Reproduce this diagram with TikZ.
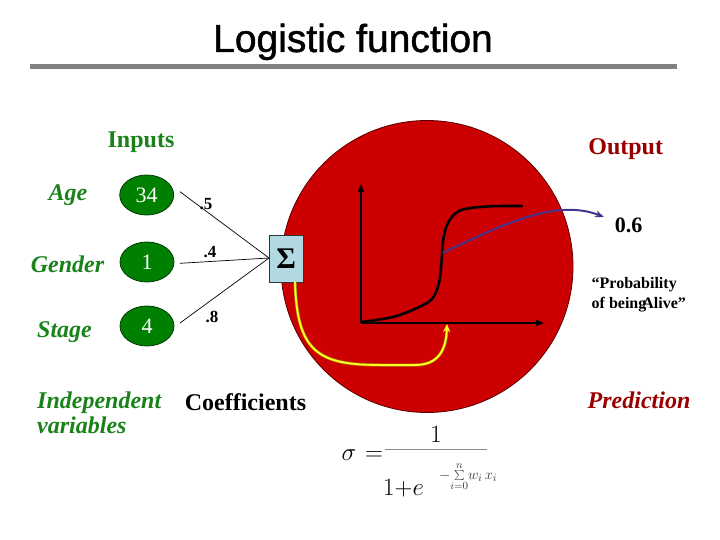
\documentclass[tikz,border=0pt]{standalone}
\usepackage{fontspec}
\setmainfont{Liberation Serif}
\newfontfamily\titlefont[FakeBold=1.2]{Liberation Sans}
\usetikzlibrary{shapes.geometric,arrows.meta,calc}
\definecolor{bigred}{RGB}{204,0,0}
\definecolor{redline}{RGB}{90,0,0}
\definecolor{maroon}{RGB}{153,0,0}
\definecolor{ellgreen}{RGB}{0,128,0}
\definecolor{ellline}{RGB}{0,60,0}
\definecolor{txtgreen}{RGB}{25,130,25}
\definecolor{sigfill}{RGB}{178,216,226}
\definecolor{arrowblue}{RGB}{72,52,140}
\definecolor{ylw}{RGB}{255,255,40}
\definecolor{ylwedge}{RGB}{170,140,0}
\definecolor{bargray}{RGB}{128,128,128}
\definecolor{fracgray}{RGB}{140,140,140}
\newcommand\setfs[1]{\fontsize{#1}{#1}\selectfont}
\tikzset{
  lbl/.style={anchor=base, inner sep=0pt},
  greenlbl/.style={lbl, text=txtgreen, font=\setfs{24}\bfseries\itshape},
  inval/.style={ellipse, draw=ellline, line width=0.8pt, fill=ellgreen, minimum width=54pt, minimum height=40pt, inner sep=0pt, text=white, font=\setfs{22}},
  weight/.style={lbl, font=\setfs{17}\bfseries},
  wire/.style={draw=black, line width=0.7pt},
  axis/.style={line width=1.6pt, -{Triangle[length=8pt,width=6pt]}},
}
\begin{document}
\begin{tikzpicture}[x=1pt,y=-1pt]
\useasboundingbox (0,0) rectangle (720,540);
% title
\node[lbl, font=\titlefont\setfs{39}] (title) at (353,52) {Logistic function};
\fill[bargray] (30,64) rectangle (677,69);
% big circle
\node[circle, draw=redline, line width=0.8pt, fill=bigred, minimum size=292pt, inner sep=0pt] (big) at (427,266.5) {};
% inputs
\node[lbl, text=txtgreen, font=\setfs{24}\bfseries] (inputs) at (141,148) {Inputs};
\node[greenlbl] (age) at (68,201) {Age};
\node[greenlbl] (gender) at (67.5,272) {Gender};
\node[greenlbl] (stage) at (64.5,337) {Stage};
\node[inval] (e1) at (146.7,195) {34};
\node[inval] (e2) at (147,262) {\raisebox{-3pt}{1}};
\node[inval] (e3) at (147,326) {\raisebox{-1pt}{4}};
% sigma box
\node[draw=black!80, line width=0.8pt, fill=sigfill, minimum width=34pt, minimum height=47pt, inner sep=0pt, font=\setfs{30}\bfseries] (sig) at (286.3,258.7) {Σ};
\coordinate (s1) at (180,191.7);
\coordinate (s2) at (180,263.3);
\coordinate (s3) at (180,323);
\coordinate (meet) at (269,258);
\draw[wire] (s1) -- (meet);
\draw[wire] (s2) -- (meet);
\draw[wire] (s3) -- (meet);
\node[weight] (w1) at (206,210) {.5};
\node[weight] (w2) at (210,257) {.4};
\node[weight] (w3) at (212,322) {.8};
\node[greenlbl, anchor=base west] (indep) at (37,408) {Independent};
\node[greenlbl, anchor=base west] (vars) at (37,433) {variables};
\node[lbl, font=\setfs{24}\bfseries] (coef) at (245.5,410) {Coefficients};
% axes
\coordinate (orig) at (361,323);
\coordinate (ytop) at (361,184);
\coordinate (xend) at (544,323);
\draw[axis] (orig) -- (ytop);
\draw[axis] (orig) -- (xend);
% sigmoid
\draw[line width=2.6pt, line cap=round] plot[smooth, tension=0.55] coordinates {(362,322) (393,317) (417,308) (432,299) (439,283) (441.5,262) (443,241) (448,223) (460,210.5) (487,206.5) (522,206)};
% blue arrow
\coordinate (bstart) at (442.5,253);
\coordinate (bend) at (604,217);
\draw[arrowblue, line width=2pt, -{Stealth[length=9pt,width=7pt]}] (bstart) .. controls (500,226) and (555,198) .. (bend);
% yellow arrow
\coordinate (ystart) at (295,282);
\coordinate (yend) at (447,324);
\coordinate (yedge) at (447,330);
\draw[ylwedge, line width=3pt] (ystart) .. controls (297,352) and (318,365) .. (380,365) -- (415,365) .. controls (440,365) and (446,348) .. (yedge);
\draw[ylw, line width=1.8pt, -{Stealth[length=8pt,width=7pt]}] (ystart) .. controls (297,352) and (318,365) .. (380,365) -- (415,365) .. controls (440,365) and (446,348) .. (yend);
% right texts
\node[lbl, text=maroon, font=\setfs{24}\bfseries] (output) at (625.7,155) {Output};
\node[lbl, font=\setfs{22}\bfseries] (val) at (628.6,233) {0.6};
\node[lbl, anchor=base west, font=\setfs{16}\bfseries] (prob1) at (591.5,288) {“Probability};
\node[lbl, anchor=base west, font=\setfs{16}\bfseries] (prob2) at (591.5,308) {of being\kern-0.25em Alive”};
\node[lbl, text=maroon, font=\setfs{24}\bfseries\itshape] (pred) at (639,408) {Prediction};
% formula
\node[lbl, font=\setfs{30}] (sigma) at (349,460) {$\sigma$};
\node[lbl, font=\setfs{30}] (eq) at (374,460) {$=$};
\draw[line width=1.5pt, fracgray] (385,449.5) -- (487,449.5);
\node[lbl, font=\setfs{23}] (num) at (436,442) {$1$};
\node[lbl, anchor=base west, font=\setfs{30}] (den) at (383,495) {$1{+}e$};
\node[anchor=west, inner sep=0pt, text=black!80, font=\setfs{15}] (expo) at (439,477) {$-\!\sum\limits_{i=0}^{n}\! w_i\, x_i$};
\end{tikzpicture}
\end{document}
